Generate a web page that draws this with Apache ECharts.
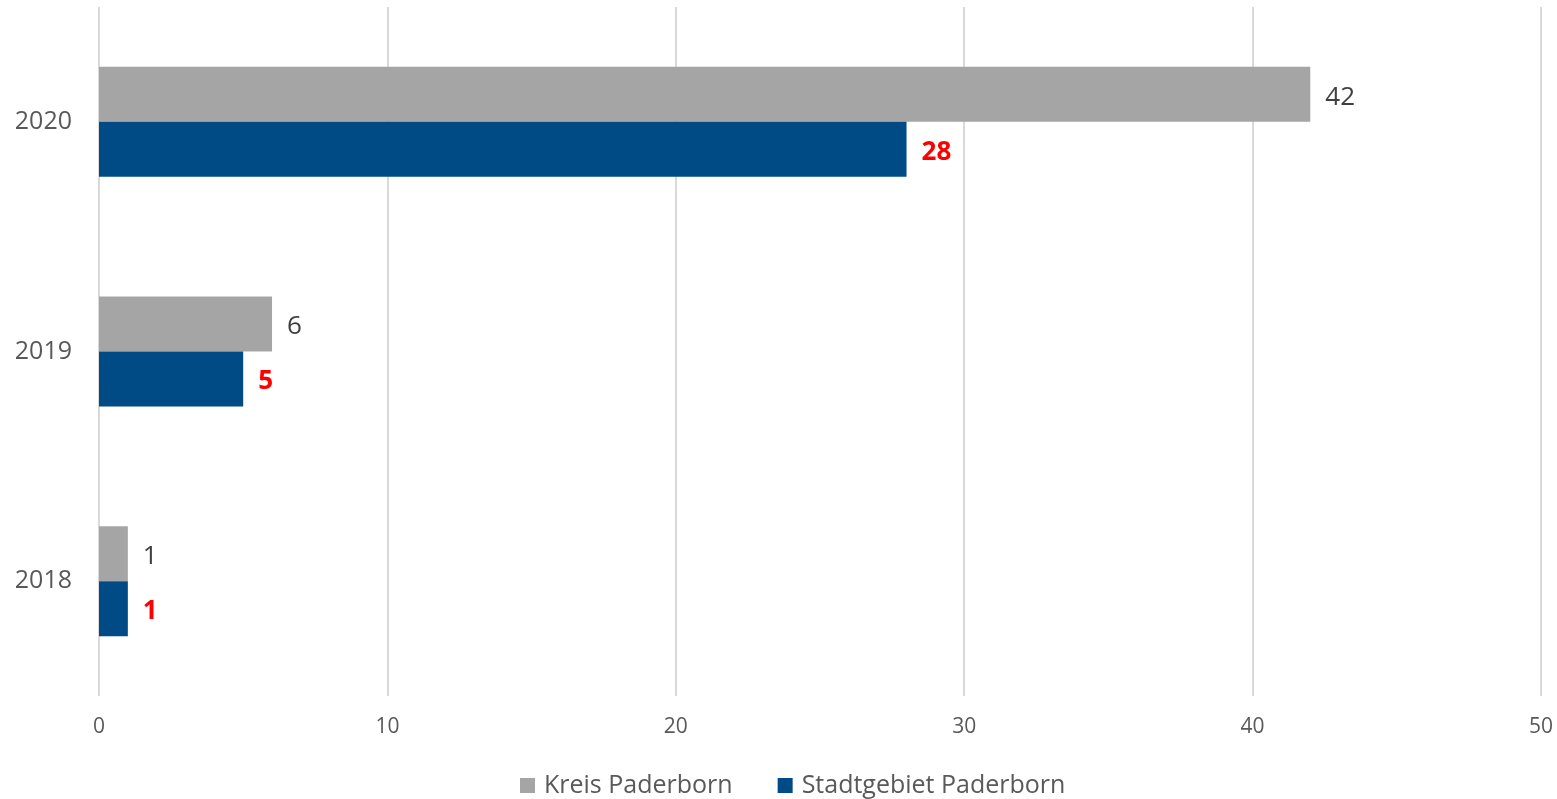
<!DOCTYPE html>
<html>
<head>
<meta charset="utf-8">
<script src="https://cdn.jsdelivr.net/npm/echarts@6/dist/echarts.min.js"></script>
<style>
  html, body { margin: 0; padding: 0; background: #fff; }
  #chart { width: 1557px; height: 799px; }
</style>
</head>
<body>
<div id="chart"></div>
<script>
// Jahre (von oben nach unten)
const years = ["2020", "2019", "2018"]
const kreisValues = [42, 6, 1]
const stadtValues = [28, 5, 1]
const xTicks = [0, 10, 20, 30, 40, 50]

const font = "'Open Sans', 'Noto Sans', sans-serif"

const chart = echarts.init(document.getElementById("chart"))

chart.setOption({
    animation: false,
    textStyle: { fontFamily: font },
    grid: {
        left: 99,
        right: 16,
        top: 7,
        bottom: 103,
        containLabel: false,
    },
    legend: {
        bottom: -4,
        left: 515,
        itemWidth: 15,
        itemHeight: 15,
        itemGap: 45,
        icon: "rect",
        textStyle: { fontSize: 25, color: "#595959", fontFamily: font, padding: [0, 0, 0, 4] },
        data: ["Kreis Paderborn", "Stadtgebiet Paderborn"],
    },
    xAxis: {
        type: "value",
        min: xTicks[0],
        max: xTicks[xTicks.length - 1],
        interval: 10,
        axisLine: { show: false },
        axisTick: { show: false },
        axisLabel: { fontSize: 21, color: "#595959", margin: 21, fontFamily: font },
        splitLine: { show: true, lineStyle: { color: "#d9d9d9", width: 2 } },
    },
    yAxis: {
        type: "category",
        inverse: true,
        data: years,
        axisLine: { show: false },
        axisTick: { show: false },
        axisLabel: { fontSize: 25, color: "#595959", margin: 27, fontFamily: font, padding: [6, 0, 0, 0] },
    },
    series: [
        {
            name: "Kreis Paderborn",
            type: "bar",
            data: kreisValues,
            barWidth: 55,
            barGap: "0%",
            itemStyle: { color: "#a5a5a5" },
            label: {
                show: true,
                position: "right",
                distance: 15,
                offset: [0, 3],
                fontSize: 26,
                color: "#404040",
                fontFamily: font,
            },
        },
        {
            name: "Stadtgebiet Paderborn",
            type: "bar",
            data: stadtValues,
            barWidth: 55,
            barGap: "0%",
            itemStyle: { color: "#004a86" },
            label: {
                show: true,
                position: "right",
                distance: 15,
                offset: [0, 3],
                fontSize: 26,
                fontWeight: "bold",
                color: "#ff0000",
                fontFamily: font,
            },
        },
    ],
})
</script>
</body>
</html>
